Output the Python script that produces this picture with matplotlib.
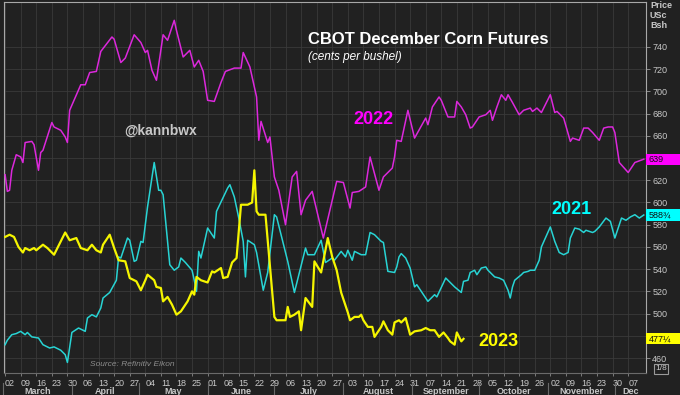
import matplotlib
matplotlib.use("Agg")
import matplotlib.pyplot as plt
import matplotlib.dates as mdates
import matplotlib.transforms as mtransforms
from matplotlib.patches import Rectangle
import pandas as pd

# all three seasons are laid on one shared Mar-Dec calendar
BASE_YEAR = 2020

DATES_2022 = [
    "03-02", "03-03", "03-04", "03-05", "03-07", "03-09", "03-10", "03-11", "03-14", "03-15",
    "03-17", "03-18", "03-19", "03-23", "03-24", "03-27", "03-29", "03-30", "03-31", "04-05",
    "04-07", "04-09", "04-12", "04-14", "04-19", "04-20", "04-23", "04-25", "04-29", "05-02",
    "05-04", "05-05", "05-07", "05-09", "05-12", "05-14", "05-17", "05-18", "05-20", "05-21",
    "05-24", "05-26", "05-28", "05-30", "06-01", "06-04", "06-07", "06-09", "06-13", "06-16",
    "06-17", "06-20", "06-23", "06-24", "06-25", "06-28", "06-29", "07-01", "07-03", "07-06",
    "07-09", "07-11", "07-13", "07-15", "07-18", "07-23", "07-27", "07-29", "08-01", "08-04",
    "08-05", "08-08", "08-11", "08-13", "08-17", "08-19", "08-23", "08-24", "08-25", "08-27",
    "08-30", "09-02", "09-07", "09-08", "09-10", "09-13", "09-14", "09-17", "09-20", "09-21",
    "09-23", "09-25", "09-27", "09-28", "10-01", "10-04", "10-06", "10-07", "10-09", "10-11",
    "10-13", "10-14", "10-16", "10-19", "10-21", "10-24", "10-25", "10-27", "10-29", "11-02",
    "11-04", "11-05", "11-08", "11-11", "11-12", "11-15", "11-17", "11-19", "11-21", "11-24",
    "11-26", "11-28", "11-30", "12-01", "12-03", "12-07", "12-10", "12-14",
]
CENTS_2022 = [
    625, 610, 611, 629, 643, 641, 636, 654, 655, 652,
    629, 645, 647, 672, 668, 665, 659, 654, 683, 706,
    706, 717, 718, 736, 749, 747, 726, 730, 751, 744,
    735, 737, 719, 710, 751, 746, 764, 755, 739, 731,
    737, 722, 728, 718, 692, 691, 708, 718, 721, 721,
    735, 722, 695, 656, 673, 654, 659, 623, 611, 580,
    623, 628, 589, 602, 610, 568, 602, 619, 618, 595,
    609, 610, 614, 641, 611, 623, 631, 641, 656, 655,
    683, 658, 676, 670, 686, 695, 692, 677, 677, 691,
    686, 679, 667, 668, 677, 679, 683, 674, 686, 697,
    692, 697, 690, 679, 683, 685, 682, 685, 681, 697,
    681, 682, 676, 655, 658, 656, 667, 667, 663, 656,
    667, 668, 668, 663, 636, 627, 636, 639,
]

DATES_2021 = [
    "03-02", "03-03", "03-05", "03-07", "03-09", "03-11", "03-12", "03-14", "03-17", "03-19",
    "03-21", "03-22", "03-24", "03-27", "03-29", "03-30", "04-01", "04-04", "04-07", "04-08",
    "04-10", "04-12", "04-14", "04-15", "04-18", "04-21", "04-22", "04-23", "04-26", "04-27",
    "04-29", "04-30", "05-02", "05-03", "05-05", "05-08", "05-10", "05-11", "05-12", "05-15",
    "05-17", "05-19", "05-20", "05-22", "05-25", "05-26", "05-27", "05-28", "05-29", "06-01",
    "06-04", "06-05", "06-10", "06-11", "06-13", "06-15", "06-17", "06-18", "06-19", "06-22",
    "06-23", "06-26", "06-28", "07-01", "07-02", "07-07", "07-10", "07-15", "07-16", "07-19",
    "07-22", "07-24", "07-27", "07-28", "07-31", "08-02", "08-03", "08-05", "08-06", "08-09",
    "08-11", "08-13", "08-15", "08-18", "08-19", "08-21", "08-24", "08-25", "08-26", "08-27",
    "08-29", "08-31", "09-02", "09-03", "09-05", "09-08", "09-11", "09-12", "09-16", "09-18",
    "09-20", "09-23", "09-24", "09-26", "09-27", "09-29", "09-30", "10-02", "10-04", "10-05",
    "10-08", "10-10", "10-12", "10-14", "10-15", "10-16", "10-17", "10-20", "10-21", "10-23",
    "10-24", "10-26", "10-28", "10-29", "11-02", "11-04", "11-06", "11-08", "11-10", "11-11",
    "11-13", "11-15", "11-17", "11-18", "11-21", "11-22", "11-24", "11-27", "11-29", "12-01",
    "12-04", "12-06", "12-08", "12-10", "12-12", "12-14",
]
CENTS_2021 = [
    472, 476, 481, 482, 484, 481, 483, 479, 478, 472,
    470, 469, 470, 467, 463, 456, 483, 487, 484, 496,
    499, 497, 505, 514, 519, 530, 551, 550, 568, 566,
    547, 548, 565, 564, 596, 636, 611, 611, 607, 544,
    539, 542, 550, 546, 539, 530, 520, 556, 550, 577,
    568, 592, 613, 616, 605, 586, 565, 533, 566, 562,
    555, 521, 537, 589, 587, 547, 519, 559, 553, 553,
    566, 546, 550, 548, 556, 551, 557, 548, 556, 553,
    553, 573, 571, 565, 564, 538, 537, 542, 551, 554,
    550, 541, 524, 526, 520, 511, 517, 515, 532, 528,
    524, 519, 529, 530, 537, 539, 535, 541, 542, 539,
    533, 532, 530, 521, 514, 524, 530, 535, 537, 538,
    539, 539, 548, 560, 578, 565, 555, 553, 555, 568,
    577, 576, 573, 575, 573, 574, 578, 586, 583, 568,
    586, 584, 587, 589, 586, 588.75,
]

DATES_2023 = [
    "03-02", "03-04", "03-06", "03-08", "03-10", "03-11", "03-13", "03-15", "03-16", "03-19",
    "03-21", "03-24", "03-27", "03-29", "03-31", "04-03", "04-05", "04-08", "04-10", "04-12",
    "04-14", "04-15", "04-18", "04-20", "04-22", "04-25", "04-27", "04-30", "05-02", "05-04",
    "05-05", "05-08", "05-09", "05-11", "05-12", "05-14", "05-16", "05-18", "05-20", "05-23",
    "05-25", "05-26", "05-27", "05-29", "06-01", "06-03", "06-04", "06-07", "06-08", "06-10",
    "06-12", "06-14", "06-16", "06-19", "06-21", "06-22", "06-23", "06-24", "06-27", "07-01",
    "07-02", "07-06", "07-07", "07-08", "07-10", "07-12", "07-13", "07-15", "07-18", "07-19",
    "07-22", "07-25", "07-27", "07-29", "07-31", "08-03", "08-04", "08-06", "08-08", "08-09",
    "08-10", "08-12", "08-14", "08-15", "08-18", "08-19", "08-21", "08-23", "08-24", "08-26",
    "08-27", "08-29", "08-31", "09-02", "09-05", "09-07", "09-09", "09-11", "09-13", "09-15",
    "09-17", "09-18", "09-20", "09-21", "09-23", "09-24",
]
CENTS_2023 = [
    569, 571, 569, 560, 555, 559, 557, 559, 557, 562,
    559, 553, 565, 573, 566, 568, 559, 557, 562, 557,
    555, 562, 571, 559, 548, 547, 532, 529, 521, 530,
    535, 530, 524, 523, 511, 515, 508, 499, 502, 511,
    520, 517, 533, 530, 528, 538, 537, 541, 532, 533,
    546, 550, 598, 598, 600, 629, 592, 589, 589, 497,
    494, 494, 506, 497, 499, 502, 485, 514, 506, 547,
    537, 568, 551, 539, 519, 501, 494, 497, 497, 499,
    494, 488, 488, 479, 488, 493, 485, 481, 492, 494,
    492, 496, 481, 484, 485, 487, 485, 485, 479, 483,
    478, 475, 472, 483, 475, 477.25,
]

YEARS = ["2022", "2021", "2023"]
LINE_COLORS = ["#dc28dc", "#28d4d4", "#f5f500"]
TAG_COLORS = ["#ff00ff", "#00ffff", "#ffff00"]
PRICE_TICKS = list(range(460, 741, 20))
MONTH_NAMES = ["March", "April", "May", "June", "July", "August",
               "September", "October", "November", "Dec"]

BG = "#212121"
GRID = "#3a3a3a"
TXT = "#c8c8c8"
W, H = 680, 395


def to_dates(mmdd):
    return pd.to_datetime([f"{BASE_YEAR}-{d}" for d in mmdd])


def tag_text(v):
    whole = int(v)
    frac = {0.25: "\u00bc", 0.5: "\u00bd", 0.75: "\u00be"}.get(round(v - whole, 2), "")
    return f"{whole}{frac}"


def fx(px):
    return px / W


def fy(py):
    return 1 - py / H


plt.rcParams["font.family"] = ["Liberation Sans", "DejaVu Sans"]

fig = plt.figure(figsize=(W / 100, H / 100), dpi=100, facecolor=BG)
ax = fig.add_axes([fx(4), fy(373), (646 - 4) / W, (373 - 2) / H])
ax.set_facecolor(BG)

series = [
    (DATES_2022, CENTS_2022, 1.1),
    (DATES_2021, CENTS_2021, 1.1),
    (DATES_2023, CENTS_2023, 1.6),
]
for (dates, cents, lw), col in zip(series, LINE_COLORS):
    ax.plot(to_dates(dates), cents, color=col, lw=lw, zorder=3)

x0 = pd.Timestamp(f"{BASE_YEAR}-03-01 12:00")
x1 = pd.Timestamp(f"{BASE_YEAR}-12-15")
ax.set_xlim(x0, x1)
ax.set_ylim(446.5, 780.5)

# weekly ticks (Mondays up to 7 Dec), day-of-month labels sitting right of the tick
ax.set_xticks(pd.date_range(f"{BASE_YEAR}-03-02", f"{BASE_YEAR}-12-07", freq="7D"))
ax.xaxis.set_major_formatter(mdates.DateFormatter("%d"))
ax.tick_params(axis="x", colors="#8a8a8a", labelcolor=TXT, labelsize=6.5,
               length=2.5, width=0.6, pad=2)
for lbl in ax.get_xticklabels():
    lbl.set_ha("left")

ax.yaxis.tick_right()
ax.set_yticks(PRICE_TICKS)
ax.tick_params(axis="y", colors="#9a9a9a", labelcolor=TXT, labelsize=6.5,
               length=3, width=0.6, pad=1.5)
# price labels that sit under a last-price tag are covered in the original
last_values = [s[1][-1] for s in series]
for val, lbl in zip(PRICE_TICKS, ax.get_yticklabels()):
    if any(abs(val - lv) < 8 for lv in last_values):
        lbl.set_visible(False)

ax.grid(True, color=GRID, lw=0.6)
ax.set_axisbelow(True)
for side in ["left", "top", "right"]:
    ax.spines[side].set_color("#a8a8a8")
    ax.spines[side].set_linewidth(0.8)
ax.spines["bottom"].set_color("#6a6a6a")
ax.spines["bottom"].set_linewidth(0.8)

# month band under the day labels
xy_blend = mtransforms.blended_transform_factory(ax.transData, ax.transAxes)
starts = pd.date_range(f"{BASE_YEAR}-03-01", periods=11, freq="MS")
for i, name in enumerate(MONTH_NAMES):
    a = max(starts[i], x0)
    b = min(starts[i + 1], x1)
    ax.text(a + (b - a) / 2, -0.051, name, transform=xy_blend, ha="center", va="center",
            fontsize=6.5, fontweight="bold", color=TXT, clip_on=False)
for s in starts[:10]:
    ax.plot([s, s], [-0.028, -0.075], transform=xy_blend, color="#6a6a6a",
            lw=0.8, clip_on=False)

# last-price tags on the right axis
yx_blend = mtransforms.blended_transform_factory(ax.transAxes, ax.transData)
for (dates, cents, _), tc in zip(series, TAG_COLORS):
    last = cents[-1]
    ax.add_patch(Rectangle((1.0, last - 5), 0.06, 10, transform=yx_blend,
                           facecolor=tc, edgecolor="none", clip_on=False, zorder=5))
    ax.text(1.004, last, tag_text(last), transform=yx_blend, ha="left", va="center",
            fontsize=6.5, color="#111111", zorder=6, clip_on=False)

for i, word in enumerate(["Price", "USc", "Bsh"]):
    fig.text(fx(650), fy(6 + i * 10), word, ha="left", va="center", fontsize=6.5,
             fontweight="bold", color=TXT)
fig.text(fx(655), fy(369), "1/8", ha="left", va="center", fontsize=6, color=TXT,
         bbox=dict(boxstyle="square,pad=0.15", facecolor="none", edgecolor="#9a9a9a", lw=0.8))

fig.text(fx(308), fy(40), "CBOT December Corn Futures", ha="left", va="center",
         fontsize=12, fontweight="bold", color="white")
fig.text(fx(308), fy(57), "(cents per bushel)", ha="left", va="center",
         fontsize=8.5, style="italic", color="white")
fig.text(fx(161), fy(131), "@kannbwx", ha="center", va="center", fontsize=10,
         fontweight="bold", color=TXT)
fig.text(fx(90), fy(364), "Source: Refinitiv Eikon", ha="left", va="center",
         fontsize=6, style="italic", color="#8c8c8c")

for year, col, (px, py) in zip(YEARS, TAG_COLORS, [(373, 120), (571, 210), (498, 342)]):
    fig.text(fx(px), fy(py), year, ha="center", va="center", fontsize=13,
             fontweight="bold", color=col)

fig.savefig("out.png", dpi=100, facecolor=BG)
